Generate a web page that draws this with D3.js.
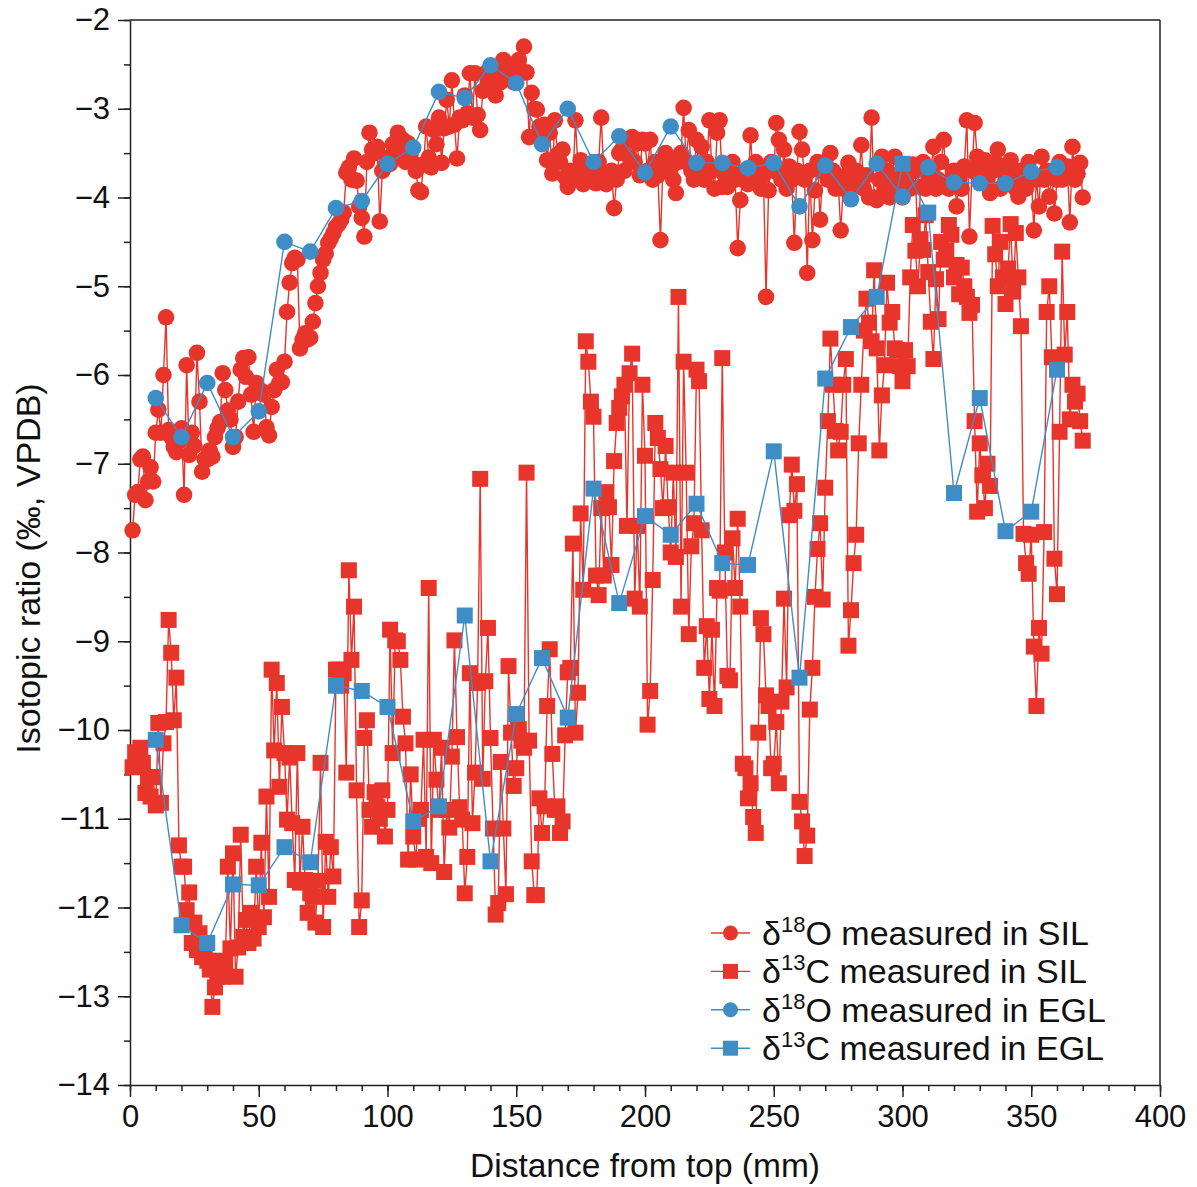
<!DOCTYPE html>
<html>
<head>
<meta charset="utf-8">
<script src="https://cdn.jsdelivr.net/npm/d3@7"></script>
<style>
  body { margin: 0; background: #fff; }
  svg { font-family: "Liberation Sans", Arial, Helvetica, sans-serif; }
</style>
</head>
<body>
<div id="chart"></div>
<script>
// sample positions along the section (mm)
const silDepth = [
  1,2,3,4,5,6,7,8,9,10,11,12,13,14,15,16,17,18,19,20,
  21,22,23,24,25,26,27,28,29,30,31,32,33,34,35,36,37,38,39,40,
  41,42,43,44,45,46,47,48,49,50,51,52,53,54,55,56,57,58,59,60,
  61,62,63,64,65,66,67,68,69,70,71,72,73,74,75,76,77,78,79,80,
  81,82,83,84,85,86,87,88,89,90,91,92,93,94,95,96,97,98,99,100,
  101,102,103,104,105,106,107,108,109,110,111,112,113,114,115,116,117,118,119,120,
  121,122,123,124,125,126,127,128,129,130,131,132,133,134,135,136,137,138,139,140,
  141,142,143,144,145,146,147,148,149,150,151,152,153,154,155,156,157,158,159,160,
  161,162,163,164,165,166,167,168,169,170,171,172,173,174,175,176,177,178,179,180,
  181,182,183,184,185,186,187,188,189,190,191,192,193,194,195,196,197,198,199,200,
  201,202,203,204,205,206,207,208,209,210,211,212,213,214,215,216,217,218,219,220,
  221,222,223,224,225,226,227,228,229,230,231,232,233,234,235,236,237,238,239,240,
  241,242,243,244,245,246,247,248,249,250,251,252,253,254,255,256,257,258,259,260,
  261,262,263,264,265,266,267,268,269,270,271,272,273,274,275,276,277,278,279,280,
  281,282,283,284,285,286,287,288,289,290,291,292,293,294,295,296,297,298,299,300,
  301,302,303,304,305,306,307,308,309,310,311,312,313,314,315,316,317,318,319,320,
  321,322,323,324,325,326,327,328,329,330,331,332,333,334,335,336,337,338,339,340,
  341,342,343,344,345,346,347,348,349,350,351,352,353,354,355,356,357,358,359,360,
  361,362,363,364,365,366,367,368,369,370
];

// d18O, SIL
const silO = [
  -7.75,-7.35,-7.32,-6.95,-6.92,-7.41,-7.2,-7.04,-7.2,-6.65,
  -6.39,-6.65,-6.0,-5.35,-6.62,-6.7,-6.81,-6.87,-6.75,-6.6,
  -7.35,-5.89,-6.9,-6.65,-6.8,-5.75,-6.3,-7.09,-6.95,-6.95,
  -6.85,-6.92,-6.7,-6.6,-6.53,-5.98,-6.17,-6.4,-6.5,-6.81,
  -6.7,-6.3,-5.94,-5.81,-6.02,-5.8,-6.22,-6.64,-6.09,-6.2,
  -6.18,-6.22,-6.59,-6.68,-6.36,-6.17,-5.94,-6.09,-6.08,-5.85,
  -5.29,-4.96,-4.74,-4.68,-4.7,-5.7,-5.6,-5.53,-5.6,-5.58,
  -5.4,-5.19,-5.0,-4.85,-4.7,-4.63,-4.51,-4.46,-4.4,-4.33,
  -4.3,-4.25,-4.17,-3.72,-3.66,-3.8,-3.56,-3.81,-4.1,-4.23,
  -4.44,-3.6,-3.27,-3.46,-3.5,-3.43,-4.27,-3.7,-3.65,-3.55,
  -3.62,-3.4,-3.5,-3.27,-3.45,-3.35,-3.6,-3.39,-3.5,-3.61,
  -3.7,-3.92,-3.94,-3.63,-3.2,-3.55,-3.66,-3.24,-3.4,-3.1,
  -3.61,-3.22,-2.9,-3.2,-2.68,-3.18,-3.56,-3.1,-3.13,-2.85,
  -3.05,-2.6,-3.1,-2.6,-3.07,-3.24,-2.8,-2.6,-2.7,-2.6,
  -2.55,-2.85,-2.6,-2.7,-2.45,-2.6,-2.5,-2.51,-2.7,-2.55,
  -2.45,-2.6,-2.3,-2.59,-3.32,-2.82,-3.0,-3.01,-3.2,-3.35,
  -3.18,-3.58,-3.27,-3.73,-3.13,-3.52,-3.6,-3.46,-3.77,-3.88,
  -3.7,-3.8,-3.13,-3.7,-3.58,-3.85,-3.67,-3.8,-3.77,-3.7,
  -3.84,-3.6,-3.1,-3.72,-3.85,-3.8,-3.7,-4.12,-3.8,-3.5,
  -3.46,-3.7,-3.35,-3.55,-3.32,-3.6,-3.39,-3.75,-3.35,-3.39,
  -3.7,-3.35,-3.8,-3.6,-3.75,-4.48,-3.6,-3.5,-3.7,-3.65,
  -3.8,-3.95,-3.6,-3.5,-2.99,-3.6,-3.24,-3.7,-3.8,-3.35,
  -3.7,-3.43,-3.8,-3.6,-3.13,-3.7,-3.9,-3.27,-3.13,-3.88,
  -3.75,-3.88,-3.7,-3.6,-3.8,-4.57,-4.03,-3.8,-3.7,-3.85,
  -3.3,-3.8,-3.6,-3.7,-3.9,-3.75,-5.12,-3.92,-3.6,-3.7,
  -3.16,-3.35,-3.8,-3.46,-3.9,-3.65,-3.8,-4.51,-3.7,-3.26,
  -3.46,-3.8,-4.85,-3.7,-4.48,-3.92,-3.6,-4.25,-3.7,-3.6,
  -3.8,-3.5,-3.7,-3.9,-3.8,-4.37,-3.9,-3.75,-3.61,-3.9,
  -3.8,-3.7,-3.8,-3.41,-3.9,-3.75,-4.0,-3.1,-4.0,-4.03,
  -3.8,-3.54,-3.9,-3.7,-4.0,-3.75,-3.54,-3.9,-3.8,-4.0,
  -3.7,-3.85,-3.9,-3.63,-3.7,-4.59,-3.88,-3.6,-3.9,-3.75,
  -3.7,-3.43,-3.9,-3.8,-3.6,-3.35,-3.88,-3.9,-3.8,-3.7,
  -4.1,-3.8,-3.9,-3.65,-3.13,-4.44,-3.7,-3.16,-3.54,-3.7,
  -3.6,-3.58,-3.8,-3.95,-3.7,-3.6,-3.46,-3.9,-3.65,-3.8,
  -3.7,-3.58,-3.8,-3.9,-3.99,-3.7,-3.84,-3.9,-3.6,-3.75,
  -4.37,-3.8,-4.1,-3.54,-3.8,-3.7,-3.99,-3.75,-4.18,-3.8,
  -3.6,-3.8,-3.75,-3.65,-4.28,-3.43,-3.8,-3.73,-3.61,-4.0
];

// d13C, SIL
const silC = [
  -10.42,-10.25,-10.3,-10.2,-10.37,-10.71,-10.53,-10.75,-10.53,-10.85,
  -9.92,-10.82,-10.15,-9.91,-8.76,-9.13,-9.89,-9.41,-11.3,-11.54,
  -11.54,-12.03,-11.83,-12.4,-12.17,-12.48,-12.29,-12.56,-12.45,-12.6,
  -12.7,-13.12,-12.9,-12.78,-12.6,-12.78,-12.63,-11.54,-12.46,-11.39,
  -12.78,-12.45,-11.18,-12.33,-12.14,-12.4,-12.06,-12.35,-11.54,-12.22,
  -11.27,-12.11,-10.75,-11.88,-9.32,-10.23,-9.47,-10.64,-9.74,-10.26,
  -11.01,-10.31,-11.05,-11.69,-10.26,-11.72,-11.09,-11.69,-12.06,-11.84,
  -11.88,-12.17,-11.7,-10.37,-12.22,-11.26,-11.88,-11.32,-11.65,-9.32,
  -9.32,-9.5,-9.36,-10.48,-8.2,-9.21,-8.61,-10.68,-12.22,-11.92,
  -10.09,-9.89,-10.9,-11.09,-10.7,-10.87,-11.0,-10.68,-11.2,-10.9,
  -8.87,-10.26,-8.99,-9.0,-9.21,-9.85,-10.15,-11.46,-10.5,-11.2,
  -11.46,-11.0,-10.9,-10.11,-11.43,-8.4,-11.5,-10.11,-10.56,-10.9,
  -10.2,-11.6,-10.9,-11.1,-10.3,-8.99,-10.08,-10.87,-11.01,-11.84,
  -11.43,-9.36,-11.05,-10.48,-9.47,-7.17,-10.55,-9.45,-8.85,-10.09,
  -11.11,-12.08,-11.95,-10.36,-11.11,-11.85,-9.28,-10.03,-10.63,-10.43,
  -9.99,-10.12,-10.2,-7.1,-10.12,-11.48,-11.86,-11.86,-10.77,-11.16,
  -10.86,-9.73,-9.09,-10.27,-10.9,-10.86,-11.16,-11.03,-10.06,-9.35,
  -9.3,-7.9,-10.03,-9.58,-7.56,-8.42,-5.62,-5.85,-6.3,-6.47,
  -8.26,-8.48,-7.5,-8.26,-7.32,-7.49,-8.14,-6.97,-6.54,-6.37,
  -6.24,-6.11,-7.7,-5.98,-5.76,-8.52,-7.7,-8.61,-6.11,-6.91,
  -9.94,-9.56,-8.31,-6.54,-6.71,-7.06,-7.5,-6.8,-7.49,-8.0,
  -7.1,-8.05,-5.12,-8.61,-5.85,-7.1,-8.92,-7.93,-7.67,-5.94,
  -6.07,-7.75,-9.3,-8.83,-9.65,-8.87,-9.73,-8.4,-8.43,-5.81,
  -8.0,-9.39,-9.44,-7.84,-8.4,-7.62,-8.61,-10.38,-10.43,-10.77,
  -10.6,-10.98,-11.16,-10.03,-8.74,-8.92,-9.61,-9.73,-10.43,-10.38,
  -9.91,-10.6,-9.68,-8.52,-9.52,-7.58,-7.01,-7.53,-7.23,-10.81,
  -11.03,-11.42,-11.19,-9.77,-9.3,-8.5,-7.96,-7.67,-8.53,-7.27,
  -6.52,-5.59,-6.11,-6.63,-6.85,-6.64,-6.11,-5.82,-9.05,-8.65,
  -8.12,-7.8,-6.77,-6.11,-5.5,-5.14,-5.41,-5.62,-4.82,-5.7,
  -6.85,-6.23,-5.89,-4.96,-5.41,-5.29,-5.7,-5.72,-5.9,-6.07,
  -5.72,-5.9,-4.9,-4.31,-4.6,-5.0,-4.47,-4.59,-4.2,-4.84,
  -5.4,-5.82,-4.92,-5.37,-4.5,-4.7,-4.6,-4.31,-4.42,-4.9,
  -4.76,-5.09,-4.79,-5.0,-5.12,-5.3,-5.21,-6.52,-7.54,-6.77,
  -7.13,-7.5,-7.0,-7.25,-4.32,-4.64,-5.0,-4.5,-4.9,-5.2,
  -4.8,-4.3,-5.06,-4.4,-4.9,-5.45,-7.79,-8.12,-8.24,-7.8,
  -9.06,-9.73,-8.85,-9.14,-7.77,-5.29,-5.0,-5.8,-8.07,-8.47,
  -6.64,-4.61,-5.77,-5.29,-6.5,-6.11,-6.3,-6.21,-6.52,-6.74
];

const eglDepth = [10,20,30,40,50,60,70,80,90,100,110,120,130,140,150,160,170,180,
  190,200,210,220,230,240,250,260,270,280,290,300,310,320,330,340,350,360];

// d18O, EGL
const eglO = [-6.26,-6.70,-6.09,-6.70,-6.41,-4.50,-4.61,-4.12,-4.04,-3.62,-3.44,-2.81,
  -2.88,-2.51,-2.71,-3.40,-3.00,-3.60,-3.31,-3.72,-3.20,-3.61,-3.61,-3.67,-3.61,-4.10,
  -3.64,-4.02,-3.62,-3.99,-3.66,-3.83,-3.84,-3.84,-3.71,-3.66];

// d13C, EGL
const eglC = [-10.11,-12.20,-12.40,-11.74,-11.75,-11.32,-11.49,-9.50,-9.56,-9.74,-11.03,
  -10.86,-8.71,-11.48,-9.82,-9.19,-9.86,-7.28,-8.57,-7.59,-7.80,-7.45,-8.12,-8.14,-6.86,
  -9.41,-6.04,-5.46,-5.12,-3.62,-4.17,-7.33,-6.26,-7.76,-7.54,-5.94];

const xTicks = [0, 50, 100, 150, 200, 250, 300, 350, 400];
const yTicks = [-14, -13, -12, -11, -10, -9, -8, -7, -6, -5, -4, -3, -2];

const red = "#e8352b";
const blue = "#3f8dc6";

const W = 1197, H = 1187;
const x = d3.scaleLinear().domain([0, 400]).range([130, 1160]);
const y = d3.scaleLinear().domain([-14, -2]).range([1085, 20]);

const svg = d3.select("#chart").append("svg")
  .attr("width", W).attr("height", H);

// minor ticks
svg.append("g")
  .attr("transform", `translate(0,${y(-14)})`)
  .call(d3.axisBottom(x).ticks(40).tickSize(6).tickFormat(""))
  .call(g => g.select(".domain").remove());
svg.append("g")
  .attr("transform", `translate(${x(0)},0)`)
  .call(d3.axisLeft(y).tickValues(d3.range(-14, -1.9, 0.5)).tickSize(6).tickFormat(""))
  .call(g => g.select(".domain").remove());

// major ticks
svg.append("g")
  .attr("class", "xaxis")
  .attr("transform", `translate(0,${y(-14)})`)
  .call(d3.axisBottom(x).tickValues(xTicks).tickSize(12).tickSizeOuter(0).tickPadding(8).tickFormat(d3.format("d")));
svg.append("g")
  .attr("class", "yaxis")
  .attr("transform", `translate(${x(0)},0)`)
  .call(d3.axisLeft(y).tickValues(yTicks).tickSize(12).tickSizeOuter(0).tickPadding(8).tickFormat(d3.format("d")));

svg.selectAll(".tick line").attr("stroke", "#222").attr("stroke-width", 1.5);
svg.selectAll(".domain").attr("stroke", "#222").attr("stroke-width", 1.5);
svg.selectAll(".xaxis text, .yaxis text")
  .attr("font-size", 31).attr("fill", "#111")
  .attr("font-family", "Liberation Sans, Arial, sans-serif");

// frame top and right
svg.append("line").attr("x1", x(0)).attr("x2", x(400)).attr("y1", y(-2)).attr("y2", y(-2))
  .attr("stroke", "#222").attr("stroke-width", 1.5);
svg.append("line").attr("x1", x(400)).attr("x2", x(400)).attr("y1", y(-2)).attr("y2", y(-14))
  .attr("stroke", "#222").attr("stroke-width", 1.5);

// axis titles
svg.append("text")
  .attr("x", (x(0) + x(400)) / 2)
  .attr("y", 1177)
  .attr("text-anchor", "middle")
  .attr("font-size", 33.5)
  .attr("fill", "#111")
  .text("Distance from top (mm)");

svg.append("text")
  .attr("transform", `translate(40,${(y(-2) + y(-14)) / 2 + 16}) rotate(-90)`)
  .attr("text-anchor", "middle")
  .attr("font-size", 34)
  .attr("fill", "#111")
  .text("Isotopic ratio (‰, VPDB)");

const plot = svg.append("g");

function drawSeries(depth, values, color, shape) {
  const pts = depth.map((d, i) => ({ d, v: values[i] }));
  const line = d3.line().x(p => x(p.d)).y(p => y(p.v));
  const g = plot.append("g");
  g.append("path")
    .datum(pts)
    .attr("d", line)
    .attr("fill", "none")
    .attr("stroke", color)
    .attr("stroke-width", 1.4);
  if (shape === "circle") {
    g.selectAll("circle").data(pts).join("circle")
      .attr("cx", p => x(p.d)).attr("cy", p => y(p.v))
      .attr("r", 8.3).attr("fill", color);
  } else {
    g.selectAll("rect").data(pts).join("rect")
      .attr("x", p => x(p.d) - 8).attr("y", p => y(p.v) - 8)
      .attr("width", 16).attr("height", 16).attr("fill", color);
  }
}

drawSeries(silDepth, silO, red, "circle");
drawSeries(silDepth, silC, red, "square");
drawSeries(eglDepth, eglO, blue, "circle");
drawSeries(eglDepth, eglC, blue, "square");

// legend
const legendItems = [
  { iso: "18", el: "O", lab: "SIL", color: red, shape: "circle" },
  { iso: "13", el: "C", lab: "SIL", color: red, shape: "square" },
  { iso: "18", el: "O", lab: "EGL", color: blue, shape: "circle" },
  { iso: "13", el: "C", lab: "EGL", color: blue, shape: "square" }
];

const legend = svg.append("g");
legendItems.forEach((it, i) => {
  const cy = 933 + i * 38.4;
  const row = legend.append("g");
  row.append("line")
    .attr("x1", 711).attr("x2", 750).attr("y1", cy).attr("y2", cy)
    .attr("stroke", it.color).attr("stroke-width", 1.4);
  if (it.shape === "circle") {
    row.append("circle").attr("cx", 730.5).attr("cy", cy).attr("r", 7.5).attr("fill", it.color);
  } else {
    row.append("rect").attr("x", 723).attr("y", cy - 7.5).attr("width", 15).attr("height", 15).attr("fill", it.color);
  }
  const t = row.append("text")
    .attr("x", 762).attr("y", cy + 12)
    .attr("font-size", 34).attr("fill", "#111");
  t.append("tspan").text("δ");
  t.append("tspan").attr("font-size", 22).attr("dy", -13).text(it.iso);
  t.append("tspan").attr("dy", 13).text(`${it.el} measured in ${it.lab}`);
});
</script>
</body>
</html>
